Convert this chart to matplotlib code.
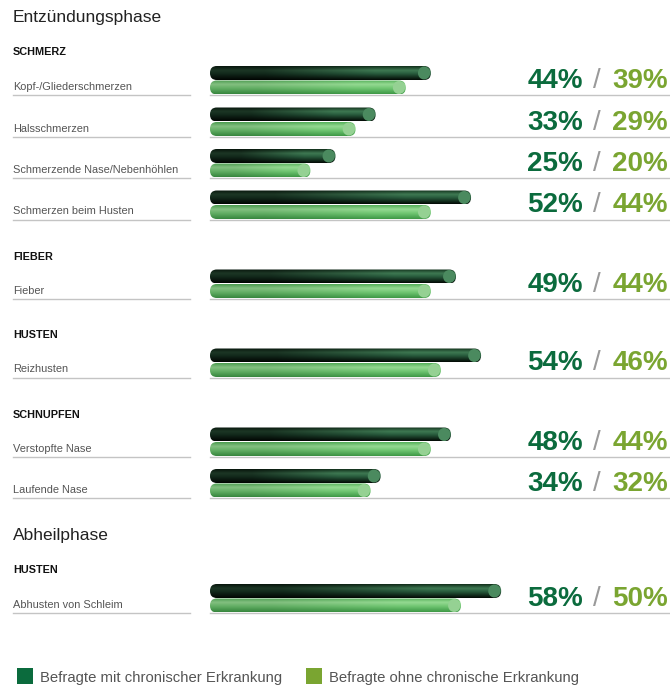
import numpy as np
import matplotlib
matplotlib.use("Agg")
import matplotlib.pyplot as plt
from matplotlib.patches import FancyBboxPatch, Ellipse, Rectangle
from matplotlib.colors import to_rgb

plt.rcParams['font.family'] = ['Liberation Sans', 'DejaVu Sans']

# Daten
labels = ["Kopf-/Gliederschmerzen", "Halsschmerzen", "Schmerzende Nase/Nebenhöhlen",
          "Schmerzen beim Husten", "Fieber", "Reizhusten", "Verstopfte Nase",
          "Laufende Nase", "Abhusten von Schleim"]
gruppen = ["SCHMERZ", "SCHMERZ", "SCHMERZ", "SCHMERZ", "FIEBER", "HUSTEN",
           "SCHNUPFEN", "SCHNUPFEN", "HUSTEN"]
phasen = ["Entzündungsphase"] * 8 + ["Abheilphase"]
mit_chronisch = [44, 33, 25, 52, 49, 54, 48, 34, 58]
ohne_chronisch = [39, 29, 20, 44, 44, 46, 44, 32, 50]
legende = ["Befragte mit chronischer Erkrankung", "Befragte ohne chronische Erkrankung"]

DUNKEL = "#0b6b3d"
HELL = "#7aa531"
GRAU = "#555555"

W, H = 670, 686
fig = plt.figure(figsize=(W / 100, H / 100), dpi=100)
ax = fig.add_axes([0, 0, 1, 1])
ax.set_xlim(0, W)
ax.set_ylim(H, 0)
ax.axis("off")

# Balken-Achse: 0..100 % ab x=210
x0_px, px_per_unit = 210, 5.02
bax = fig.add_axes([x0_px / W, 0, 100 * px_per_unit / W, 1])
bax.patch.set_alpha(0)

# Layout (y in Pixel, von oben)
ys = []
y = 22
phase_y, gruppe_y = [], []
prev_phase, prev_gruppe = None, None
for i in range(len(labels)):
    if phasen[i] != prev_phase:
        if prev_phase is not None:
            y += 57
        phase_y.append((phasen[i], y))
        y += 33
        gruppe_y.append((gruppen[i], y))
        y += 25
        prev_phase, prev_gruppe = phasen[i], gruppen[i]
    elif gruppen[i] != prev_gruppe:
        y += 55
        gruppe_y.append((gruppen[i], y))
        y += 24
        prev_gruppe = gruppen[i]
    else:
        y += 41.5
    ys.append(y)

for txt, yy in phase_y:
    ax.text(13, yy, txt, fontsize=12.5, color="#222222", va="baseline")
for txt, yy in gruppe_y:
    ax.text(13, yy, txt, fontsize=7.8, fontweight="bold", color="#111111", va="baseline")


def verlauf(stops, links, n=40):
    t = np.linspace(0, 1, n)
    pos = [s[0] for s in stops]
    cols = np.array([to_rgb(s[1]) for s in stops])
    prof = np.stack([np.interp(t, pos, cols[:, k]) for k in range(3)], axis=1)
    arr = np.stack([prof * links, prof], axis=1)
    return np.clip(arr, 0, 1)


dunkel_stops = [(0, "#12301c"), (0.3, "#3f7a53"), (0.55, "#275a3c"), (1, "#030a05")]
hell_stops = [(0, "#55b05a"), (0.3, "#95da92"), (0.6, "#6fc571"), (1, "#3e9846")]
img_dunkel = verlauf(dunkel_stops, 0.45)
img_hell = verlauf(hell_stops, 0.88)

bh = 14  # Balkenhöhe px
r_px = 6.8
r_u = r_px / px_per_unit


def balken(v, yc, img, endfarbe):
    patch = FancyBboxPatch((0, yc - bh / 2), v, bh,
                           boxstyle=f"round,pad=0,rounding_size={r_u}",
                           mutation_aspect=px_per_unit, facecolor="none",
                           edgecolor="none", transform=bax.transData)
    bax.add_patch(patch)
    im = bax.imshow(img, extent=(0, v, yc + bh / 2, yc - bh / 2), aspect="auto",
                    interpolation="bilinear", origin="upper", zorder=2)
    im.set_clip_path(patch)
    bax.add_patch(Ellipse((v - r_u, yc), 2 * r_u * 0.9, bh - 1, facecolor=endfarbe,
                          edgecolor="none", zorder=3))


for i, b in enumerate(ys):
    ax.text(13, b + 10, labels[i], fontsize=7.9, color=GRAU, va="baseline")
    ax.plot([13, 190], [b + 15, b + 15], color="#c4c4c4", lw=1)
    ax.plot([210, 670], [b + 15, b + 15], color="#c4c4c4", lw=1)
    balken(mit_chronisch[i], b - 7, img_dunkel, "#4b8a5f")
    balken(ohne_chronisch[i], b + 7.5, img_hell, "#95d193")
    ax.text(668, b + 8, f"{ohne_chronisch[i]}%", fontsize=20, fontweight="bold",
            color=HELL, ha="right", va="baseline")
    ax.text(597, b + 8, "/", fontsize=20, color="#9a9a9a", ha="center", va="baseline")
    ax.text(583, b + 8, f"{mit_chronisch[i]}%", fontsize=20, fontweight="bold",
            color=DUNKEL, ha="right", va="baseline")

bax.set_xlim(0, 100)
bax.set_ylim(H, 0)
bax.axis("off")

# Legende
for x, farbe, txt in [(17, DUNKEL, legende[0]), (306, HELL, legende[1])]:
    ax.add_patch(Rectangle((x, 668), 16, 16, facecolor=farbe, edgecolor="none"))
    ax.text(x + 23, 682, txt, fontsize=10.7, color=GRAU, va="baseline")

fig.savefig("out.png", dpi=100)
